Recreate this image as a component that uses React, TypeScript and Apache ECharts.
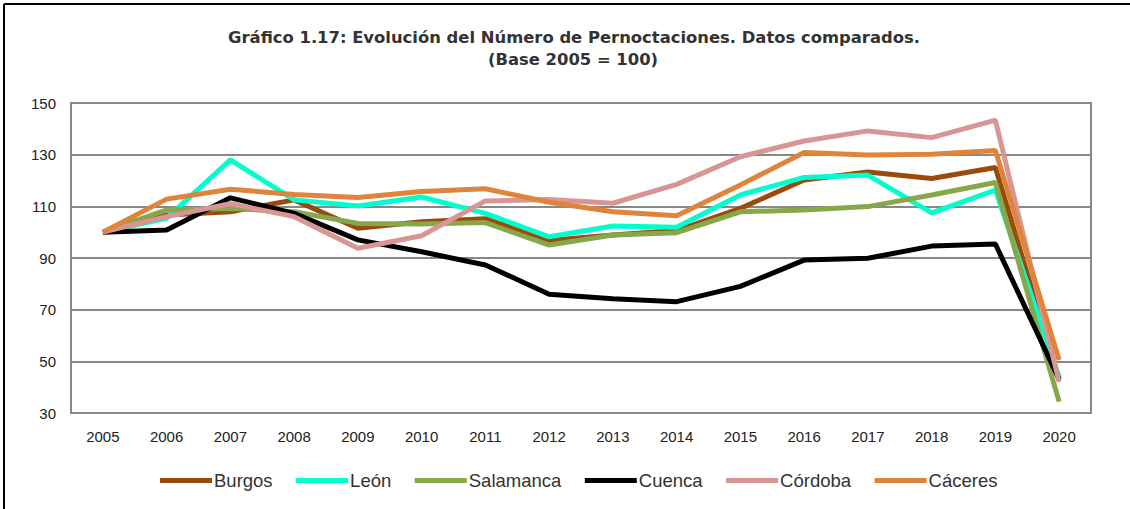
import React, { useEffect, useRef } from "react";
import * as echarts from "echarts";

const years = ["2005","2006","2007","2008","2009","2010","2011","2012","2013","2014","2015","2016","2017","2018","2019","2020"];
const burgos = [100, 106.6, 107.9, 112.5, 101.5, 104, 105.2, 96.8, 98.9, 100.6, 109.2, 120.2, 123.3, 120.8, 125, 43];
const leon = [100, 105.4, 128, 112.5, 110.1, 113.6, 107.3, 98.2, 102.4, 101.9, 114.4, 121.2, 122.1, 107.5, 116.3, 44];
const salamanca = [100, 108.6, 109.2, 107.9, 103.4, 103.2, 103.7, 95, 98.9, 99.8, 107.9, 108.6, 109.9, 114.4, 119.2, 34.4];
const cuenca = [100, 100.8, 113.3, 107.3, 97, 92.4, 87.3, 76, 74.2, 73.1, 79, 89.2, 89.9, 94.6, 95.4, 43];
const cordoba = [100, 106, 111, 106, 93.8, 98.6, 112.1, 112.6, 111.2, 118.5, 129.2, 135.3, 139.2, 136.6, 143.4, 42];
const caceres = [100, 112.8, 116.6, 114.6, 113.4, 115.7, 116.8, 111.6, 107.9, 106.4, 118.3, 130.8, 129.9, 130.2, 131.6, 50.5];

const seriesNames = ["Burgos", "León", "Salamanca", "Cuenca", "Córdoba", "Cáceres"];
const seriesData = [burgos, leon, salamanca, cuenca, cordoba, caceres];
const seriesColors = ["#9A4A0B", "#00FFCC", "#86A84A", "#000000", "#D99594", "#E0843C"];

const title1 = "Gráfico 1.17: Evolución del Número de Pernoctaciones. Datos comparados.";
const title2 = "(Base 2005 = 100)";

export default function App() {
  const ref = useRef<HTMLDivElement>(null);
  useEffect(() => {
    if (!ref.current) return;
    const chart = echarts.init(ref.current, null, { renderer: "svg" });
    chart.setOption({
      animation: false,
      backgroundColor: "#ffffff",
      graphic: [
        { type: "line", shape: { x1: 4, y1: 4, x2: 1130, y2: 4 }, style: { stroke: "#000", lineWidth: 2 } },
        { type: "line", shape: { x1: 4, y1: 4, x2: 4, y2: 509 }, style: { stroke: "#000", lineWidth: 2 } },
        {
          type: "text", x: 574, y: 29,
          style: { text: title1, font: "bold 16.4px 'DejaVu Sans'", fill: "#333", textAlign: "center", textVerticalAlign: "top" },
        },
        {
          type: "text", x: 573, y: 51,
          style: { text: title2, font: "bold 16.4px 'DejaVu Sans'", fill: "#333", textAlign: "center", textVerticalAlign: "top" },
        },
      ],
      grid: { left: 71, right: 39, top: 103, bottom: 96, show: true, borderColor: "#888", borderWidth: 2 },
      legend: {
        bottom: 14,
        left: 155,
        data: seriesNames,
        icon: "rect",
        itemWidth: 52,
        itemHeight: 5,
        itemGap: 23.5,
        textStyle: { fontFamily: "'Liberation Sans', Arial", fontSize: 18.5, color: "#333", padding: [0, 0, 0, -3] },
      },
      xAxis: {
        type: "category",
        data: years,
        boundaryGap: true,
        axisLine: { lineStyle: { color: "#888", width: 2 } },
        axisTick: { show: false },
        axisLabel: { fontFamily: "'Liberation Sans', Arial", fontSize: 15, color: "#222", margin: 16 },
      },
      yAxis: {
        type: "value",
        min: 30,
        max: 150,
        interval: 20,
        axisLine: { show: true, lineStyle: { color: "#888", width: 2 } },
        axisTick: { show: false },
        splitLine: { lineStyle: { color: "#888", width: 2 } },
        axisLabel: { fontFamily: "'Liberation Sans', Arial", fontSize: 15, color: "#222", margin: 15 },
      },
      series: seriesNames.map((n, i) => ({
        name: n,
        type: "line",
        data: seriesData[i],
        symbol: "none",
        color: seriesColors[i],
        lineStyle: { width: 5, color: seriesColors[i] },
      })),
    });
    return () => chart.dispose();
  }, []);
  return <div ref={ref} style={{ position: "fixed", left: 0, top: 0, width: 1130, height: 509 }} />;
}
